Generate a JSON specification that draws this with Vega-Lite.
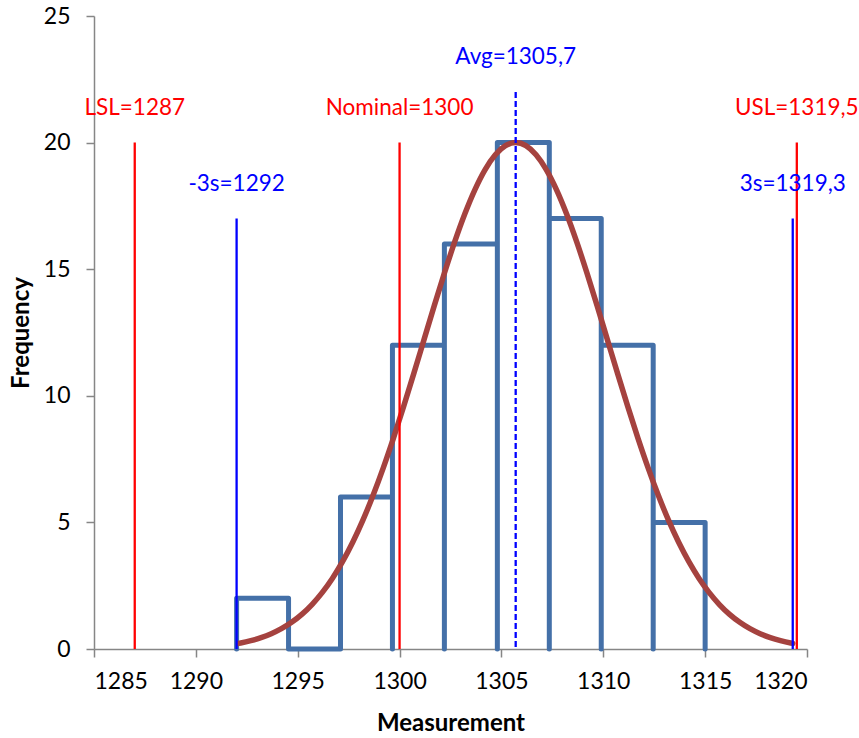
{
  "$schema": "https://vega.github.io/schema/vega-lite/v6.json",
  "width": 713,
  "height": 633,
  "autosize": {"type": "none"},
  "padding": {"left": 94, "top": 16, "right": 52, "bottom": 89},
  "config": {
    "view": {"stroke": null},
    "font": "Lato",
    "axis": {
      "grid": false,
      "domainColor": "#868686",
      "domainWidth": 1.5,
      "tickColor": "#868686",
      "tickWidth": 1.5,
      "tickSize": 8,
      "labelColor": "#000000",
      "labelFont": "Lato",
      "labelFontSize": 23,
      "titleFont": "Lato",
      "titleFontSize": 24,
      "titleFontWeight": "bold",
      "titleColor": "#000000"
    }
  },
  "datasets": {
    "hist": [
      {"x": 1292, "y": 0, "o": 1}, {"x": 1292, "y": 2, "o": 2}, {"x": 1294.55, "y": 2, "o": 3}, {"x": 1294.55, "y": 0, "o": 4},
      {"x": 1294.55, "y": 0, "o": 5}, {"x": 1294.55, "y": 0, "o": 6}, {"x": 1297.1, "y": 0, "o": 7}, {"x": 1297.1, "y": 0, "o": 8},
      {"x": 1297.1, "y": 0, "o": 9}, {"x": 1297.1, "y": 6, "o": 10}, {"x": 1299.65, "y": 6, "o": 11}, {"x": 1299.65, "y": 0, "o": 12},
      {"x": 1299.65, "y": 0, "o": 13}, {"x": 1299.65, "y": 12, "o": 14}, {"x": 1302.2, "y": 12, "o": 15}, {"x": 1302.2, "y": 0, "o": 16},
      {"x": 1302.2, "y": 0, "o": 17}, {"x": 1302.2, "y": 16, "o": 18}, {"x": 1304.8, "y": 16, "o": 19}, {"x": 1304.8, "y": 0, "o": 20},
      {"x": 1304.8, "y": 0, "o": 21}, {"x": 1304.8, "y": 20, "o": 22}, {"x": 1307.35, "y": 20, "o": 23}, {"x": 1307.35, "y": 0, "o": 24},
      {"x": 1307.35, "y": 0, "o": 25}, {"x": 1307.35, "y": 17, "o": 26}, {"x": 1309.9, "y": 17, "o": 27}, {"x": 1309.9, "y": 0, "o": 28},
      {"x": 1309.9, "y": 0, "o": 29}, {"x": 1309.9, "y": 12, "o": 30}, {"x": 1312.45, "y": 12, "o": 31}, {"x": 1312.45, "y": 0, "o": 32},
      {"x": 1312.45, "y": 0, "o": 33}, {"x": 1312.45, "y": 5, "o": 34}, {"x": 1315.0, "y": 5, "o": 35}, {"x": 1315.0, "y": 0, "o": 36}
    ],
    "curve": [
      {"x": 1292.1, "y": 0.222}, {"x": 1292.2, "y": 0.237}, {"x": 1292.7, "y": 0.328}, {"x": 1293.2, "y": 0.447},
      {"x": 1293.7, "y": 0.602}, {"x": 1294.2, "y": 0.801}, {"x": 1294.7, "y": 1.053}, {"x": 1295.2, "y": 1.368},
      {"x": 1295.7, "y": 1.756}, {"x": 1296.2, "y": 2.226}, {"x": 1296.7, "y": 2.788}, {"x": 1297.2, "y": 3.449},
      {"x": 1297.7, "y": 4.215}, {"x": 1298.2, "y": 5.089}, {"x": 1298.7, "y": 6.071}, {"x": 1299.2, "y": 7.155},
      {"x": 1299.7, "y": 8.330}, {"x": 1300.2, "y": 9.581}, {"x": 1300.7, "y": 10.886}, {"x": 1301.2, "y": 12.220},
      {"x": 1301.7, "y": 13.551}, {"x": 1302.2, "y": 14.845}, {"x": 1302.7, "y": 16.067}, {"x": 1303.2, "y": 17.179},
      {"x": 1303.7, "y": 18.145}, {"x": 1304.2, "y": 18.935}, {"x": 1304.7, "y": 19.519}, {"x": 1305.2, "y": 19.879},
      {"x": 1305.7, "y": 20.0},
      {"x": 1306.2, "y": 19.879}, {"x": 1306.7, "y": 19.519}, {"x": 1307.2, "y": 18.935}, {"x": 1307.7, "y": 18.145},
      {"x": 1308.2, "y": 17.179}, {"x": 1308.7, "y": 16.067}, {"x": 1309.2, "y": 14.845}, {"x": 1309.7, "y": 13.551},
      {"x": 1310.2, "y": 12.220}, {"x": 1310.7, "y": 10.886}, {"x": 1311.2, "y": 9.581}, {"x": 1311.7, "y": 8.330},
      {"x": 1312.2, "y": 7.155}, {"x": 1312.7, "y": 6.071}, {"x": 1313.2, "y": 5.089}, {"x": 1313.7, "y": 4.215},
      {"x": 1314.2, "y": 3.449}, {"x": 1314.7, "y": 2.788}, {"x": 1315.2, "y": 2.226}, {"x": 1315.7, "y": 1.756},
      {"x": 1316.2, "y": 1.368}, {"x": 1316.7, "y": 1.053}, {"x": 1317.2, "y": 0.801}, {"x": 1317.7, "y": 0.602},
      {"x": 1318.2, "y": 0.447}, {"x": 1318.7, "y": 0.328}, {"x": 1319.2, "y": 0.237}, {"x": 1319.3, "y": 0.222}
    ],
    "refs": [
      {"x": 1287, "top": 20, "label": "LSL=1287", "kind": "spec"},
      {"x": 1300, "top": 20, "label": "Nominal=1300", "kind": "spec"},
      {"x": 1319.5, "top": 20, "label": "USL=1319,5", "kind": "spec"},
      {"x": 1292, "top": 17, "label": "-3s=1292", "kind": "sigma"},
      {"x": 1319.3, "top": 17, "label": "3s=1319,3", "kind": "sigma"},
      {"x": 1305.7, "top": 22, "label": "Avg=1305,7", "kind": "avg"}
    ]
  },
  "layer": [
    {
      "data": {"name": "hist"},
      "mark": {"type": "line", "stroke": "#4470A8", "strokeWidth": 5, "strokeJoin": "round", "strokeCap": "round"},
      "encoding": {
        "x": {"field": "x", "type": "quantitative", "scale": {"domain": [1285, 1320], "nice": false, "zero": false},
              "axis": {"values": [1285, 1290, 1295, 1300, 1305, 1310, 1315, 1320], "format": "d", "title": "Measurement", "labelPadding": 13, "titlePadding": 18}},
        "y": {"field": "y", "type": "quantitative", "scale": {"domain": [0, 25], "nice": false},
              "axis": {"values": [0, 5, 10, 15, 20, 25], "format": "d", "title": "Frequency", "labelPadding": 16, "titlePadding": 10}},
        "order": {"field": "o", "type": "quantitative"}
      }
    },
    {
      "data": {"name": "curve"},
      "mark": {"type": "line", "stroke": "#A5423F", "strokeWidth": 5.5, "strokeCap": "round", "interpolate": "monotone"},
      "encoding": {
        "x": {"field": "x", "type": "quantitative"},
        "y": {"field": "y", "type": "quantitative"}
      }
    },
    {
      "data": {"name": "refs"},
      "mark": {"type": "rule", "strokeWidth": 2.3},
      "encoding": {
        "x": {"field": "x", "type": "quantitative"},
        "y": {"field": "top", "type": "quantitative"},
        "y2": {"datum": 0},
        "color": {"field": "kind", "type": "nominal", "scale": {"domain": ["spec", "sigma", "avg"], "range": ["#FF0000", "#0000FF", "#0000FF"]}, "legend": null},
        "strokeDash": {"field": "kind", "type": "nominal", "scale": {"domain": ["spec", "sigma", "avg"], "range": [[1, 0], [1, 0], [6, 3]]}, "legend": null}
      }
    },
    {
      "data": {"name": "refs"},
      "mark": {"type": "text", "fontSize": 22.5, "font": "Lato", "align": "center", "baseline": "middle", "dy": -35},
      "encoding": {
        "x": {"field": "x", "type": "quantitative"},
        "y": {"field": "top", "type": "quantitative"},
        "text": {"field": "label", "type": "nominal"},
        "color": {"field": "kind", "type": "nominal", "legend": null}
      }
    }
  ]
}
